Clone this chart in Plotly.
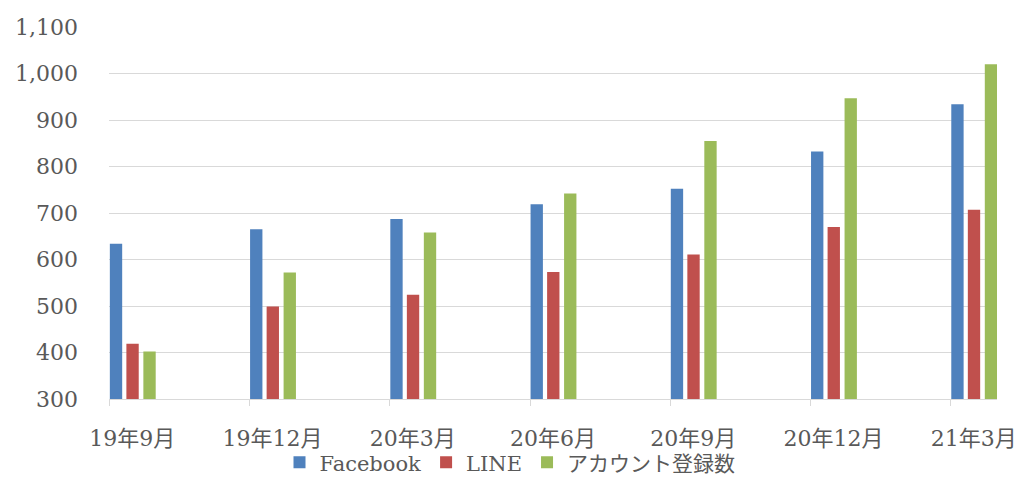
import plotly.graph_objects as go

categories = ["19年9月", "19年12月", "20年3月", "20年6月", "20年9月", "20年12月", "21年3月"]
facebook = [634, 665, 687, 719, 752, 832, 934]
line_vals = [419, 499, 524, 573, 611, 670, 707]
accounts = [402, 572, 658, 742, 855, 947, 1020]

series_names = ["Facebook", "LINE", "アカウント登録数"]
colors = ["#4F81BD", "#C0504D", "#9BBB59"]
offsets = [0.004, 0.122, 0.243]
bar_width = 0.088

FONT = "DejaVu Serif, Noto Sans CJK JP, serif"
TXT = "#595959"

fig = go.Figure()
for name, vals, col, off in zip(series_names, [facebook, line_vals, accounts], colors, offsets):
    fig.add_trace(go.Bar(
        x=categories, y=vals, name=name,
        marker=dict(color=col, line=dict(width=0)),
        offset=off, width=bar_width,
    ))

fig.update_layout(
    width=1020, height=477,
    margin=dict(l=109, r=23, t=27, b=78, autoexpand=False),
    plot_bgcolor="white", paper_bgcolor="white",
    font=dict(family=FONT, size=20, color=TXT),
    barmode="overlay",
    showlegend=True,
    legend=dict(
        orientation="h", xref="container", yref="container",
        x=0.5, xanchor="center", y=0.03, yanchor="middle",
        font=dict(family=FONT, size=21, color=TXT),
        itemwidth=30, tracegroupgap=0, itemsizing="constant",
        bgcolor="rgba(0,0,0,0)",
    ),
    xaxis=dict(
        type="category",
        range=[-0.002, 6.33],
        showgrid=False,
        showline=True, linecolor="#d9d9d9", linewidth=1,
        ticks="outside", ticklen=6, tickcolor="#d9d9d9",
        ticklabelshift=23, ticklabelstandoff=14,
        tickfont=dict(family=FONT, size=22, color=TXT),
        automargin=False,
    ),
    yaxis=dict(
        range=[300, 1100],
        tickvals=[300, 400, 500, 600, 700, 800, 900, 1000, 1100],
        tickformat=",d",
        showgrid=True, gridcolor="#d9d9d9", gridwidth=1,
        zeroline=False, showline=False, ticks="",
        ticklabelstandoff=30,
        tickfont=dict(family=FONT, size=22, color=TXT),
        automargin=False,
    ),
)

fig.write_html("out.html")
